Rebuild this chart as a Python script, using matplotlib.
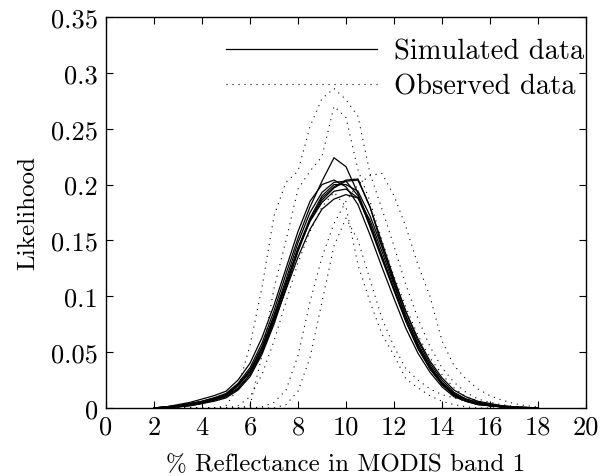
"""Likelihood curves of simulated vs observed reflectance."""

import numpy as np
import matplotlib
matplotlib.use("Agg")
import matplotlib.pyplot as plt

plt.rcParams["font.family"] = "cmr10"
plt.rcParams["mathtext.fontset"] = "cm"
plt.rcParams["axes.formatter.use_mathtext"] = True

# reflectance grid (%), 2 .. 18 in steps of 0.5
x = np.arange(2.0, 18.5, 0.5)

# simulated data (solid)
sim_1 = [0, 0.001, 0.002, 0.003, 0.005, 0.007, 0.011, 0.02, 0.033, 0.055, 0.083, 0.115, 0.148, 0.175, 0.193, 0.202, 0.203,
         0.19, 0.162, 0.133, 0.105, 0.077, 0.053, 0.035, 0.021, 0.011, 0.006, 0.004, 0.002, 0.001, 0.0005, 0, 0]
sim_2 = [0, 0.001, 0.002, 0.004, 0.006, 0.009, 0.013, 0.022, 0.036, 0.058, 0.087, 0.12, 0.152, 0.18, 0.203, 0.224, 0.216,
         0.192, 0.165, 0.135, 0.106, 0.078, 0.054, 0.035, 0.021, 0.012, 0.006, 0.003, 0.002, 0.001, 0.0005, 0, 0]
sim_3 = [0, 0.0005, 0.001, 0.002, 0.004, 0.006, 0.009, 0.016, 0.028, 0.048, 0.075, 0.107, 0.14, 0.168, 0.188, 0.198, 0.204,
         0.205, 0.18, 0.148, 0.116, 0.086, 0.06, 0.04, 0.025, 0.014, 0.008, 0.005, 0.003, 0.0015, 0.001, 0.0005, 0]
sim_4 = [0, 0.001, 0.003, 0.005, 0.008, 0.011, 0.015, 0.025, 0.04, 0.063, 0.092, 0.125, 0.158, 0.185, 0.2, 0.204, 0.198,
         0.182, 0.155, 0.126, 0.098, 0.071, 0.049, 0.032, 0.019, 0.01, 0.006, 0.003, 0.002, 0.001, 0, 0, 0]
sim_5 = [0, 0.0005, 0.001, 0.003, 0.005, 0.008, 0.011, 0.018, 0.03, 0.05, 0.077, 0.106, 0.135, 0.16, 0.178, 0.187, 0.191,
         0.188, 0.168, 0.14, 0.11, 0.082, 0.057, 0.038, 0.023, 0.013, 0.008, 0.005, 0.003, 0.002, 0.001, 0.0005, 0]
sim_6 = [0, 0.001, 0.002, 0.004, 0.006, 0.009, 0.012, 0.021, 0.034, 0.054, 0.082, 0.112, 0.142, 0.167, 0.184, 0.194, 0.196,
         0.188, 0.164, 0.136, 0.107, 0.079, 0.055, 0.036, 0.022, 0.012, 0.007, 0.004, 0.002, 0.001, 0.0005, 0, 0]
sim_7 = [0, 0.0005, 0.001, 0.002, 0.004, 0.007, 0.01, 0.017, 0.03, 0.05, 0.079, 0.11, 0.143, 0.17, 0.19, 0.2, 0.2,
         0.194, 0.172, 0.144, 0.114, 0.086, 0.062, 0.042, 0.027, 0.016, 0.01, 0.006, 0.004, 0.002, 0.001, 0.0005, 0]
sim_8 = [0, 0.001, 0.002, 0.003, 0.005, 0.008, 0.012, 0.02, 0.032, 0.052, 0.08, 0.111, 0.143, 0.168, 0.186, 0.197, 0.203,
         0.204, 0.18, 0.145, 0.112, 0.082, 0.057, 0.037, 0.022, 0.012, 0.007, 0.004, 0.002, 0.001, 0.0005, 0, 0]

# observed data (dotted)
obs_1 = [0, 0, 0, 0, 0, 0, 0.002, 0.018, 0.056, 0.108, 0.172, 0.202, 0.212, 0.252, 0.277, 0.286, 0.276,
         0.261, 0.21, 0.178, 0.145, 0.11, 0.08, 0.055, 0.036, 0.023, 0.014, 0.008, 0.005, 0.003, 0.0015, 0.0005, 0]
obs_2 = [0, 0, 0, 0, 0, 0, 0, 0, 0.002, 0.047, 0.107, 0.15, 0.196, 0.212, 0.225, 0.27, 0.26,
         0.213, 0.185, 0.15, 0.118, 0.09, 0.065, 0.045, 0.03, 0.018, 0.01, 0.006, 0.003, 0.001, 0, 0, 0]
obs_3 = [0, 0, 0, 0, 0, 0, 0, 0, 0, 0.001, 0.005, 0.016, 0.047, 0.095, 0.135, 0.165, 0.185,
         0.2, 0.208, 0.21, 0.19, 0.162, 0.128, 0.1, 0.06, 0.038, 0.026, 0.017, 0.011, 0.007, 0.004, 0.002, 0.001]
obs_4 = [0, 0, 0, 0, 0, 0, 0, 0.002, 0.01, 0.03, 0.06, 0.095, 0.13, 0.158, 0.18, 0.193, 0.18,
         0.128, 0.095, 0.066, 0.047, 0.026, 0.018, 0.011, 0.006, 0.003, 0.001, 0, 0, 0, 0, 0, 0]
obs_5 = [0, 0, 0, 0, 0, 0, 0, 0, 0, 0, 0, 0.003, 0.015, 0.045, 0.095, 0.145, 0.17,
         0.15, 0.115, 0.08, 0.055, 0.035, 0.025, 0.017, 0.012, 0.009, 0.006, 0.004, 0.002, 0.001, 0, 0, 0]

simulated = [sim_1, sim_2, sim_3, sim_4, sim_5, sim_6, sim_7, sim_8]
observed = [obs_1, obs_2, obs_3, obs_4, obs_5]

xticks = list(range(0, 21, 2))
yticks = [0, 0.05, 0.1, 0.15, 0.2, 0.25, 0.3, 0.35]
ytick_labels = ["0", "0.05", "0.1", "0.15", "0.2", "0.25", "0.3", "0.35"]

fig = plt.figure(figsize=(6.01, 4.77), dpi=100)
ax = fig.add_axes([0.1764, 0.1426, 0.7986, 0.8197])

for i, y in enumerate(simulated):
    ax.plot(x, y, color="black", linewidth=0.9,
            label="Simulated data" if i == 0 else None)
for i, y in enumerate(observed):
    ax.plot(x, y, color="black", linewidth=0.8, linestyle=(0, (1, 4.4)),
            label="Observed data" if i == 0 else None)

ax.set_xlim(0, 20)
ax.set_ylim(0, 0.35)
ax.set_xticks(xticks)
ax.set_xticklabels([str(t) for t in xticks])
ax.set_yticks(yticks)
ax.set_yticklabels(ytick_labels)
ax.tick_params(direction="in", top=True, right=True, length=5, width=0.8,
               labelsize=19)
ax.tick_params(axis="x", pad=5)
ax.tick_params(axis="y", pad=6)
for s in ax.spines.values():
    s.set_linewidth(1.0)

ax.set_xlabel("% Reflectance in MODIS band 1", fontsize=18, labelpad=10)
ax.set_ylabel("Likelihood", fontsize=18, labelpad=8)

ax.legend(loc="upper right", bbox_to_anchor=(1.02, 0.974), borderaxespad=0,
          frameon=False, fontsize=20.5, handlelength=5.3,
          handletextpad=0.6, labelspacing=0.3)

fig.savefig("out.png", dpi=100)
